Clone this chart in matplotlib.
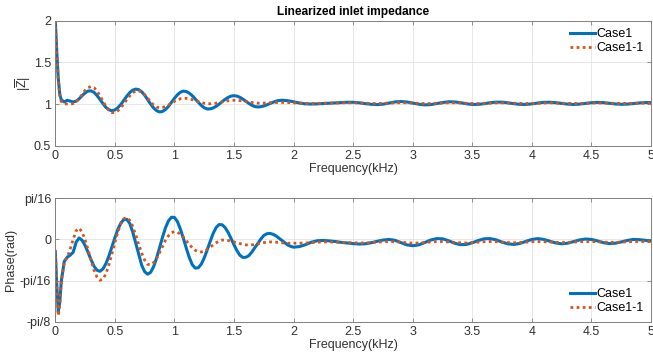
import numpy as np
import matplotlib
matplotlib.use("Agg")
import matplotlib.pyplot as plt

plt.rcParams['font.family'] = ['Liberation Sans', 'DejaVu Sans']
plt.rcParams['mathtext.fontset'] = 'custom'
plt.rcParams['mathtext.rm'] = 'Liberation Sans'
plt.rcParams['mathtext.it'] = 'Liberation Sans'

# frequency samples (kHz)
freq = [0, 0.0125, 0.025, 0.0375, 0.05, 0.075, 0.1, 0.125, 0.15, 0.175,
        0.2, 0.225, 0.25, 0.275, 0.3, 0.325, 0.35, 0.375, 0.4, 0.425,
        0.45, 0.475, 0.5, 0.525, 0.55, 0.575, 0.6, 0.625, 0.65, 0.675,
        0.7, 0.725, 0.75, 0.775, 0.8, 0.825, 0.85, 0.875, 0.9, 0.925,
        0.95, 0.975, 1.0, 1.025, 1.05, 1.075, 1.1, 1.125, 1.15, 1.175,
        1.2, 1.225, 1.25, 1.275, 1.3, 1.325, 1.35, 1.375, 1.4, 1.425,
        1.45, 1.475, 1.5, 1.525, 1.55, 1.575, 1.6, 1.625, 1.65, 1.675,
        1.7, 1.725, 1.75, 1.775, 1.8, 1.825, 1.85, 1.875, 1.9, 1.925,
        1.95, 1.975, 2.0, 2.05, 2.1, 2.15, 2.2, 2.25, 2.3, 2.35,
        2.4, 2.45, 2.5, 2.55, 2.6, 2.65, 2.7, 2.75, 2.8, 2.85,
        2.9, 2.95, 3.0, 3.05, 3.1, 3.15, 3.2, 3.25, 3.3, 3.35,
        3.4, 3.45, 3.5, 3.55, 3.6, 3.65, 3.7, 3.75, 3.8, 3.85,
        3.9, 3.95, 4.0, 4.05, 4.1, 4.15, 4.2, 4.25, 4.3, 4.35,
        4.4, 4.45, 4.5, 4.55, 4.6, 4.65, 4.7, 4.75, 4.8, 4.85,
        4.9, 4.95, 5.0]

# normalized impedance magnitude
mag_case1 = [2.00, 1.62, 1.30, 1.12, 1.05, 1.025, 1.045, 1.035, 1.025, 1.035,
             1.063, 1.10, 1.134, 1.156, 1.158, 1.14, 1.102, 1.055, 1.005, 0.959,
             0.931, 0.92, 0.929, 0.956, 0.995, 1.045, 1.094, 1.138, 1.167, 1.179,
             1.173, 1.147, 1.106, 1.053, 1.0, 0.953, 0.92, 0.905, 0.911, 0.935,
             0.972, 1.02, 1.069, 1.111, 1.142, 1.155, 1.15, 1.13, 1.099, 1.06,
             1.02, 0.983, 0.955, 0.941, 0.942, 0.953, 0.973, 0.999, 1.029, 1.056,
             1.079, 1.095, 1.10, 1.095, 1.08, 1.058, 1.032, 1.007, 0.985, 0.97,
             0.965, 0.968, 0.977, 0.99, 1.005, 1.02, 1.033, 1.042, 1.045, 1.044,
             1.04, 1.034, 1.027, 1.012, 1.002, 1.0, 1.002, 1.006, 1.011, 1.015,
             1.019, 1.0215, 1.021, 1.015, 1.005, 0.997, 0.993, 0.998, 1.0115, 1.025,
             1.03, 1.025, 1.012, 0.998, 0.99, 0.993, 1.005, 1.018, 1.027, 1.026,
             1.016, 1.003, 0.995, 0.996, 1.004, 1.016, 1.023, 1.0225, 1.014, 1.004,
             0.996, 0.995, 1.002, 1.012, 1.0205, 1.0215, 1.016, 1.007, 0.999, 0.995,
             0.999, 1.0075, 1.016, 1.02, 1.017, 1.0095, 1.001, 0.997, 0.999, 1.005,
             1.013, 1.0175, 1.018]

mag_case1_1 = [2.00, 1.60, 1.28, 1.10, 1.03, 1.005, 1.0, 1.0, 1.005, 1.024,
               1.065, 1.115, 1.164, 1.197, 1.21, 1.196, 1.156, 1.10, 1.034, 0.97,
               0.923, 0.897, 0.898, 0.919, 0.956, 1.004, 1.051, 1.099, 1.136, 1.157,
               1.159, 1.143, 1.111, 1.07, 1.027, 0.988, 0.964, 0.955, 0.959, 0.971,
               0.988, 1.01, 1.032, 1.051, 1.064, 1.07, 1.068, 1.063, 1.053, 1.042,
               1.029, 1.018, 1.009, 1.004, 1.003, 1.006, 1.011, 1.018, 1.025, 1.033,
               1.039, 1.044, 1.045, 1.044, 1.041, 1.036, 1.03, 1.024, 1.018, 1.0135,
               1.011, 1.01, 1.011, 1.013, 1.015, 1.017, 1.019, 1.02, 1.02, 1.019,
               1.018, 1.016, 1.014, 1.011, 1.008, 1.007, 1.008, 1.009, 1.011, 1.013,
               1.014, 1.015, 1.015, 1.013, 1.01, 1.007, 1.006, 1.008, 1.011, 1.014,
               1.016, 1.015, 1.012, 1.008, 1.005, 1.006, 1.009, 1.013, 1.015, 1.015,
               1.013, 1.009, 1.006, 1.006, 1.009, 1.012, 1.014, 1.014, 1.012, 1.009,
               1.007, 1.006, 1.008, 1.011, 1.013, 1.014, 1.012, 1.009, 1.007, 1.006,
               1.007, 1.01, 1.012, 1.013, 1.012, 1.01, 1.008, 1.007, 1.007, 1.009,
               1.011, 1.012, 1.012]

# impedance phase (rad)
phase_case1 = [-0.06, -0.22, -0.345, -0.30, -0.20, -0.105, -0.085, -0.075, -0.061, -0.013,
               0.007, -0.004, -0.029, -0.062, -0.097, -0.128, -0.147, -0.152, -0.141, -0.115,
               -0.079, -0.036, 0.008, 0.048, 0.078, 0.095, 0.096, 0.076, 0.035, -0.018,
               -0.073, -0.123, -0.154, -0.166, -0.157, -0.13, -0.089, -0.04, 0.011, 0.056,
               0.089, 0.106, 0.105, 0.085, 0.049, 0.005, -0.043, -0.087, -0.121, -0.137,
               -0.135, -0.118, -0.088, -0.05, -0.009, 0.029, 0.057, 0.071, 0.07, 0.057,
               0.034, 0.005, -0.026, -0.054, -0.076, -0.086, -0.085, -0.077, -0.06, -0.039,
               -0.019, 0.002, 0.019, 0.027, 0.029, 0.025, 0.018, 0.007, -0.004, -0.015,
               -0.026, -0.033, -0.037, -0.034, -0.025, -0.013, -0.006, -0.005, -0.007, -0.01,
               -0.014, -0.017, -0.02, -0.022, -0.021, -0.016, -0.009, -0.003, 0.0, -0.004,
               -0.015, -0.026, -0.03, -0.026, -0.015, -0.003, 0.004, 0.003, -0.006, -0.018,
               -0.025, -0.024, -0.016, -0.005, 0.003, 0.004, -0.002, -0.013, -0.021, -0.024,
               -0.019, -0.009, 0.0, 0.004, 0.0, -0.0085, -0.017, -0.021, -0.018, -0.0104,
               -0.0024, 0.002, 0.0, -0.007, -0.0155, -0.02, -0.018, -0.012, -0.005, 0.0,
               -0.001, -0.004, -0.008]

phase_case1_1 = [-0.05, -0.22, -0.365, -0.31, -0.20, -0.11, -0.085, -0.045, 0.0, 0.042,
                 0.054, 0.035, -0.002, -0.05, -0.10, -0.147, -0.18, -0.195, -0.189, -0.164,
                 -0.12, -0.069, -0.015, 0.036, 0.075, 0.099, 0.104, 0.091, 0.062, 0.021,
                 -0.024, -0.065, -0.099, -0.119, -0.121, -0.111, -0.09, -0.063, -0.033, -0.004,
                 0.018, 0.033, 0.037, 0.034, 0.025, 0.011, -0.007, -0.024, -0.04, -0.052,
                 -0.059, -0.06, -0.056, -0.047, -0.037, -0.026, -0.016, -0.008, -0.003, -0.003,
                 -0.005, -0.008, -0.012, -0.016, -0.02, -0.023, -0.026, -0.027, -0.026, -0.024,
                 -0.021, -0.018, -0.015, -0.013, -0.012, -0.012, -0.013, -0.014, -0.016, -0.017,
                 -0.018, -0.018, -0.018, -0.018, -0.017, -0.015, -0.013, -0.012, -0.012, -0.013,
                 -0.014, -0.015, -0.016, -0.017, -0.017, -0.015, -0.013, -0.011, -0.010, -0.011,
                 -0.013, -0.016, -0.018, -0.017, -0.015, -0.012, -0.010, -0.010, -0.012, -0.014,
                 -0.016, -0.017, -0.015, -0.013, -0.011, -0.010, -0.011, -0.013, -0.015, -0.016,
                 -0.015, -0.013, -0.011, -0.010, -0.011, -0.012, -0.014, -0.015, -0.014, -0.013,
                 -0.011, -0.010, -0.010, -0.011, -0.013, -0.014, -0.014, -0.013, -0.011, -0.010,
                 -0.010, -0.010, -0.011]

series_labels = ['Case1', 'Case1-1']
x_ticks = [0, 0.5, 1, 1.5, 2, 2.5, 3, 3.5, 4, 4.5, 5]
x_tick_labels = ['0', '0.5', '1', '1.5', '2', '2.5', '3', '3.5', '4', '4.5', '5']
mag_ticks = [0.5, 1, 1.5, 2]
mag_tick_labels = ['0.5', '1', '1.5', '2']
phase_ticks = [-np.pi / 8, -np.pi / 16, 0, np.pi / 16]
phase_tick_labels = ['-pi/8', '-pi/16', '0', 'pi/16']

BLUE = '#0072BD'
ORANGE = '#D95319'
FS = 9
TEXT = '#303030'

fig = plt.figure(figsize=(6.53, 3.63), dpi=100)
ax1 = fig.add_axes([0.0847, 0.5986, 0.9123, 0.3444])
ax2 = fig.add_axes([0.0847, 0.1138, 0.9123, 0.3399])


def style_axes(ax):
    ax.set_xlim(0, 5)
    ax.set_xticks(x_ticks)
    ax.set_xticklabels(x_tick_labels)
    ax.grid(True, color='#e3e3e3', linewidth=0.6)
    ax.set_axisbelow(True)
    for s in ax.spines.values():
        s.set_color('#808080')
        s.set_linewidth(0.7)
    ax.tick_params(direction='in', length=3, width=0.6, color='#808080',
                   labelsize=FS, labelcolor=TEXT, top=True, right=True, pad=3)
    ax.set_xlabel('Frequency(kHz)', fontsize=FS, color=TEXT, labelpad=1)


ax1.plot(freq, mag_case1, color=BLUE, lw=2.2, label=series_labels[0])
ax1.plot(freq, mag_case1_1, color=ORANGE, lw=2.0, ls=(0, (1, 1.2)),
         label=series_labels[1])
style_axes(ax1)
ax1.set_ylim(0.5, 2)
ax1.set_yticks(mag_ticks)
ax1.set_yticklabels(mag_tick_labels)
ax1.set_ylabel(r'$|\overline{Z}|$', fontsize=FS, color=TEXT, labelpad=1)
ax1.set_title('Linearized inlet impedance', fontsize=8.6, fontweight='bold',
              color='#000000', pad=4)
ax1.legend(loc='upper right', frameon=False, fontsize=FS, handlelength=2.0,
           handletextpad=0.1, labelspacing=0.15, borderaxespad=0.2)

ax2.plot(freq, phase_case1, color=BLUE, lw=2.2, label=series_labels[0])
ax2.plot(freq, phase_case1_1, color=ORANGE, lw=2.0, ls=(0, (1, 1.2)),
         label=series_labels[1])
style_axes(ax2)
ax2.set_ylim(-np.pi / 8, np.pi / 16)
ax2.set_yticks(phase_ticks)
ax2.set_yticklabels(phase_tick_labels)
ax2.set_ylabel('Phase(rad)', fontsize=FS, color=TEXT, labelpad=2)
ax2.legend(loc='lower right', frameon=False, fontsize=FS, handlelength=2.0,
           handletextpad=0.1, labelspacing=0.15, borderaxespad=0.2)

fig.savefig('out.png', dpi=100)
